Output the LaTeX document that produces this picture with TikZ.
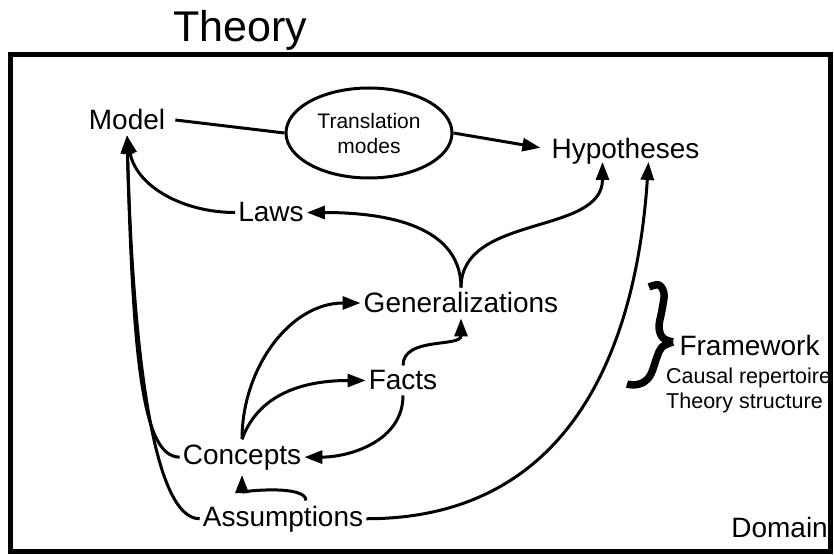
\documentclass[tikz,border=0pt]{standalone}
\usepackage{fontspec}
\setmainfont{Liberation Sans}
\usetikzlibrary{arrows.meta,shapes.geometric}

\begin{document}
\begin{tikzpicture}[x=1pt,y=1pt,
    lbl/.style={font=\fontsize{28}{30}\selectfont, inner xsep=3pt, inner ysep=5pt, anchor=base},
    small/.style={font=\fontsize{21.5}{24}\selectfont, inner sep=0pt, anchor=base west},
    link/.style={line width=3pt},
    arr/.style={line width=3pt, -{Triangle[length=18pt,width=13pt]}}]
    \useasboundingbox (0,0) rectangle (834,554);

    % title and frame
    \node[font=\fontsize{43}{46}\selectfont, anchor=base] (title) at (240,512) {Theory};
    \draw[line width=4.5pt] (10.5,2.5) rectangle (830.5,499.5);
    \node[lbl, anchor=base east] (domain) at (831,17) {Domain};

    % concepts of the theory
    \node[lbl] (model) at (127,424) {Model};
    \node[draw, ellipse, line width=3pt, minimum width=166pt, minimum height=90pt,
          align=center, font=\fontsize{21}{25}\selectfont] (trans) at (369,421) {Translation\\modes};
    \node[lbl] (hyp) at (625.5,395) {Hypotheses};
    \node[lbl] (laws) at (271,332) {Laws};
    \node[lbl] (gen) at (461,241) {Generalizations};
    \node[lbl] (facts) at (403,164) {Facts};
    \node[lbl] (con) at (242,90) {Concepts};
    \node[lbl] (asm) at (283,28) {Assumptions};
    \coordinate (hypL) at ([xshift=-23pt,yshift=-3pt]hyp.base);
    \coordinate (hypR) at ([xshift=23pt,yshift=-3pt]hyp.base);

    % framework (slanted brace)
    \draw[line width=7.5pt, line join=round] plot[smooth, tension=0.6] coordinates {(649,267) (659,269) (664,260) (662,244) (659,227) (663,216) (673,212)};
    \draw[line width=7.5pt, line join=round] plot[smooth, tension=0.6] coordinates {(673,212) (662,207) (657,197) (651,180) (644,172) (634,169) (627,170)};
    \node[lbl, inner sep=0pt] (frame) at (749.5,198) {Framework};
    \node[small] (causal) at (666,170) {Causal repertoire};
    \node[small] (struct) at (666,146) {Theory structure};

    % connectors
    \draw[link] ([xshift=7pt]model.east) -- (trans.west);
    \draw[arr] (trans.east) -- ([xshift=-8pt,yshift=4pt]hyp.west);
    \draw[arr] (laws.west) to[out=180,in=-80] (model.south);
    \draw[arr] (gen.north) to[out=90,in=0] (laws.east);
    \draw[arr] (gen.north) to[out=90,in=-90] (hypL);
    \draw[arr] (asm.east) .. controls +(225,0) and +(-10,-150) .. (hypR);
    \draw[arr] (con.north) to[out=90,in=180] (gen.west);
    \draw[arr] (con.north) to[out=70,in=180] (facts.west);
    \draw[arr] (facts.south) to[out=-90,in=0] (con.east);
    \draw[arr] (facts.north) to[out=90,in=-90] (gen.south);
    \draw[arr] ([xshift=23pt]asm.north) to[out=90,in=-90,looseness=0.6] (con.south);
    \draw[arr] (con.west) .. controls +(-38,0) and +(6,-220) .. (model.south);
    \draw[arr] (asm.west) .. controls +(-46,0) and +(6,-220) .. (model.south);
\end{tikzpicture}
\end{document}
